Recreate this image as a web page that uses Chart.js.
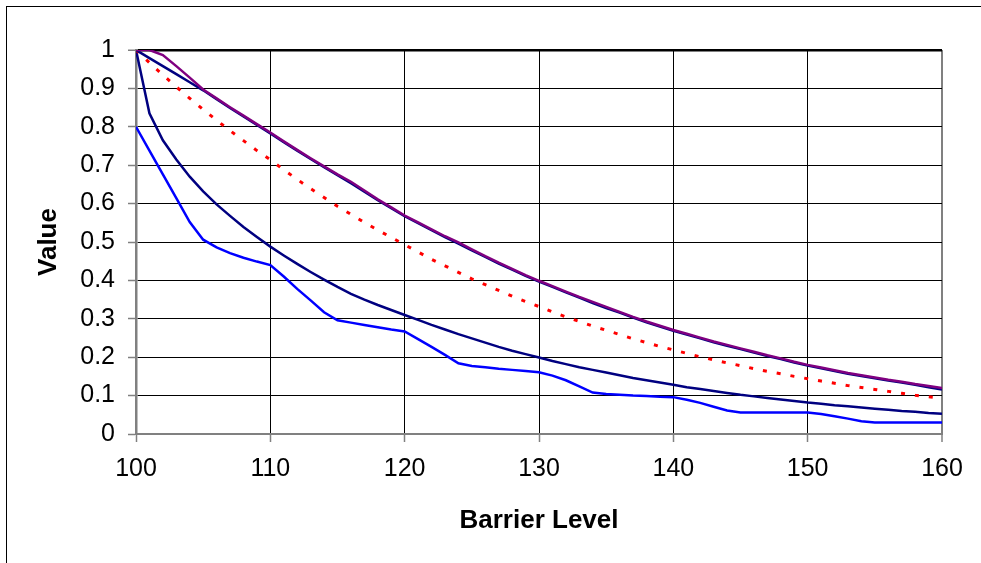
<!DOCTYPE html>
<html>
<head>
<meta charset="utf-8">
<title>Barrier Level</title>
<script src="https://cdn.jsdelivr.net/npm/chart.js@4/dist/chart.umd.min.js"></script>
<style>
  body { margin: 0; background: #fff; }
  #wrap { width: 981px; height: 563px; }
</style>
</head>
<body>
<div id="wrap"><canvas id="barrierChart" width="981" height="563"></canvas></div>
<script>
// Data
const barrierLevels = [100, 101, 102, 103, 104, 105, 106, 107, 108, 109,
  110, 111, 112, 113, 114, 115, 116, 117, 118, 119,
  120, 121, 122, 123, 124, 125, 126, 127, 128, 129,
  130, 131, 132, 133, 134, 135, 136, 137, 138, 139,
  140, 141, 142, 143, 144, 145, 146, 147, 148, 149,
  150, 151, 152, 153, 154, 155, 156, 157, 158, 159, 160];

const purpleValues = [1.000, 1.000, 0.987, 0.958, 0.928, 0.897, 0.874, 0.851, 0.829, 0.807,
  0.785, 0.762, 0.740, 0.718, 0.697, 0.676, 0.657, 0.634, 0.611, 0.590,
  0.569, 0.551, 0.533, 0.515, 0.499, 0.481, 0.463, 0.446, 0.430, 0.414,
  0.399, 0.385, 0.371, 0.357, 0.344, 0.331, 0.318, 0.305, 0.293, 0.282,
  0.271, 0.261, 0.251, 0.241, 0.232, 0.223, 0.214, 0.205, 0.197, 0.188,
  0.180, 0.173, 0.166, 0.159, 0.153, 0.147, 0.141, 0.136, 0.130, 0.125, 0.120];

const navyTopValues = [1.000, 0.979, 0.958, 0.937, 0.916, 0.895, 0.872, 0.849, 0.827, 0.805,
  0.783, 0.760, 0.738, 0.716, 0.695, 0.674, 0.653, 0.631, 0.609, 0.588,
  0.567, 0.549, 0.531, 0.513, 0.496, 0.478, 0.461, 0.444, 0.428, 0.412,
  0.397, 0.383, 0.369, 0.355, 0.341, 0.328, 0.316, 0.303, 0.291, 0.280,
  0.269, 0.259, 0.249, 0.239, 0.230, 0.221, 0.212, 0.203, 0.195, 0.186,
  0.178, 0.171, 0.164, 0.157, 0.151, 0.145, 0.139, 0.134, 0.128, 0.122, 0.116];

const redValues = [1.000, 0.967, 0.935, 0.904, 0.874, 0.845, 0.817, 0.790, 0.764, 0.738,
  0.714, 0.688, 0.663, 0.639, 0.616, 0.593, 0.572, 0.551, 0.531, 0.512,
  0.493, 0.474, 0.455, 0.438, 0.421, 0.404, 0.389, 0.374, 0.359, 0.345,
  0.332, 0.318, 0.305, 0.293, 0.281, 0.270, 0.259, 0.248, 0.238, 0.228,
  0.219, 0.210, 0.201, 0.193, 0.185, 0.178, 0.170, 0.163, 0.157, 0.150,
  0.144, 0.138, 0.132, 0.126, 0.121, 0.116, 0.111, 0.106, 0.101, 0.097, 0.093];

const navyLowValues = [1.000, 0.835, 0.765, 0.715, 0.670, 0.632, 0.598, 0.568, 0.539, 0.513,
  0.488, 0.465, 0.443, 0.422, 0.402, 0.383, 0.365, 0.350, 0.336, 0.323,
  0.310, 0.297, 0.284, 0.272, 0.260, 0.249, 0.238, 0.227, 0.217, 0.208,
  0.199, 0.190, 0.182, 0.174, 0.167, 0.160, 0.153, 0.146, 0.140, 0.134,
  0.128, 0.122, 0.117, 0.112, 0.107, 0.102, 0.098, 0.094, 0.090, 0.086,
  0.082, 0.079, 0.075, 0.072, 0.069, 0.066, 0.063, 0.060, 0.058, 0.055, 0.053];

const blueValues = [0.800, 0.738, 0.676, 0.614, 0.552, 0.506, 0.486, 0.471, 0.459, 0.449,
  0.440, 0.410, 0.378, 0.348, 0.317, 0.296, 0.290, 0.284, 0.278, 0.272,
  0.267, 0.247, 0.227, 0.206, 0.184, 0.177, 0.174, 0.170, 0.167, 0.164,
  0.161, 0.152, 0.140, 0.124, 0.108, 0.104, 0.102, 0.100, 0.099, 0.097,
  0.096, 0.089, 0.081, 0.071, 0.061, 0.056, 0.056, 0.056, 0.056, 0.056,
  0.056, 0.052, 0.046, 0.040, 0.033, 0.030, 0.030, 0.030, 0.030, 0.030, 0.030];

const xTicks = [100, 110, 120, 130, 140, 150, 160];
const yTicks = [0, 0.1, 0.2, 0.3, 0.4, 0.5, 0.6, 0.7, 0.8, 0.9, 1];

function toPoints(values) {
  return barrierLevels.map(function (x, i) { return { x: x, y: values[i] }; });
}

function line(values, color, dash) {
  return {
    data: toPoints(values),
    borderColor: color,
    borderWidth: dash ? 3 : 2.5,
    borderDash: dash || [],
    pointRadius: 0,
    tension: 0,
    fill: false
  };
}

// outer frame, clipped on the right and bottom like the source
const framePlugin = {
  id: 'frame',
  beforeDraw: function (chart) {
    const ctx = chart.ctx;
    ctx.save();
    ctx.fillStyle = '#fff';
    ctx.fillRect(0, 0, chart.width, chart.height);
    ctx.strokeStyle = '#000';
    ctx.lineWidth = 1;
    ctx.strokeRect(6.5, 6.5, 1000, 600);
    ctx.restore();
  }
};

const tickFont = { family: 'Arial, "Liberation Sans", sans-serif', size: 25 };
const titleFont = { family: 'Arial, "Liberation Sans", sans-serif', size: 26, weight: 'bold' };

new Chart(document.getElementById('barrierChart'), {
  type: 'line',
  data: {
    datasets: [
      line(purpleValues, '#800080'),
      line(navyTopValues, '#000080'),
      line(redValues, '#ff0000', [4, 10]),
      line(navyLowValues, '#000080'),
      line(blueValues, '#0000ff')
    ]
  },
  options: {
    responsive: false,
    animation: false,
    layout: { padding: { left: 0, right: 39, top: 50, bottom: 0 } },
    plugins: { legend: { display: false }, tooltip: { enabled: false } },
    scales: {
      x: {
        type: 'linear',
        min: 100,
        max: 160,
        afterBuildTicks: function (scale) {
          scale.ticks = xTicks.map(function (v) { return { value: v }; });
        },
        afterFit: function (scale) { scale.height = 129; },
        ticks: { color: '#000', font: tickFont, padding: 12, maxRotation: 0,
          callback: function (v) { return String(v); } },
        grid: {
          color: function (c) { return c.tick && c.tick.value === 160 ? '#808080' : '#000'; },
          lineWidth: function (c) { return c.tick && c.tick.value === 160 ? 2 : 1; },
          tickColor: '#808080',
          tickLength: 8,
          tickWidth: 1.5
        },
        border: { color: '#808080', width: 2 },
        title: { display: true, text: 'Barrier Level', color: '#000', font: titleFont, padding: { top: 0, bottom: 27 } }
      },
      y: {
        min: 0,
        max: 1,
        afterBuildTicks: function (scale) {
          scale.ticks = yTicks.map(function (v) { return { value: v }; });
        },
        afterFit: function (scale) { scale.width = 136; },
        ticks: { color: '#000', font: tickFont, padding: 13,
          callback: function (v) { return String(v); } },
        grid: {
          color: '#000',
          lineWidth: function (c) { return c.tick && c.tick.value === 1 ? 2.5 : 1; },
          tickColor: '#808080',
          tickLength: 8,
          tickWidth: 1.5
        },
        border: { color: '#808080', width: 2.5 },
        title: { display: true, text: 'Value', color: '#000', font: titleFont, padding: { top: 33, bottom: 0 } }
      }
    }
  },
  plugins: [framePlugin]
});
</script>
</body>
</html>
